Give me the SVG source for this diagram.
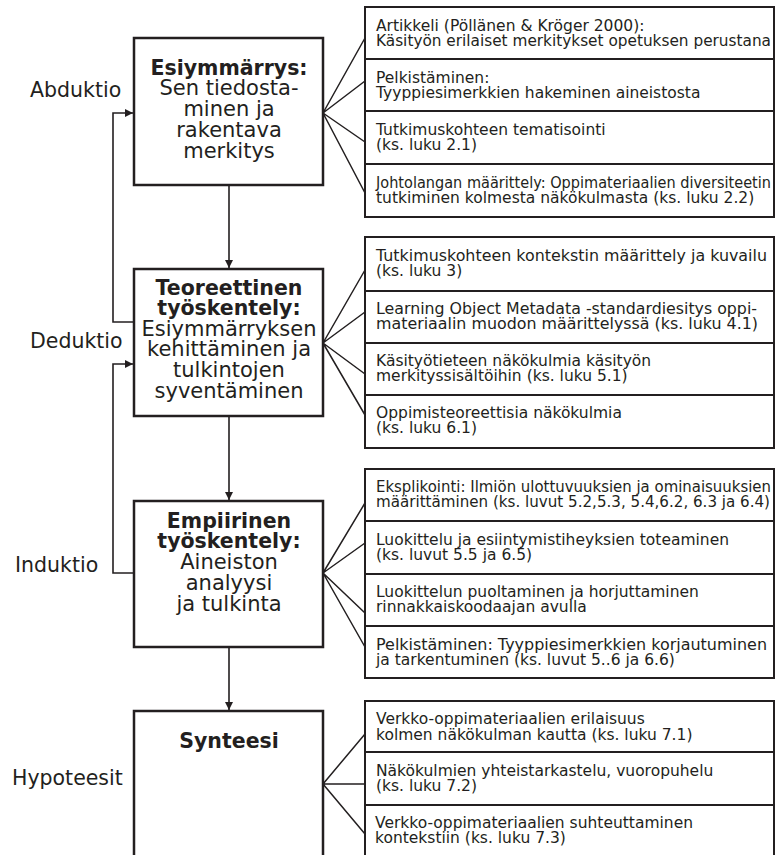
<svg xmlns="http://www.w3.org/2000/svg" width="776" height="855" viewBox="0 0 776 855">
  <style>
    .box { fill: #fff; stroke: #231f20; stroke-width: 2.5; }
    .panel { fill: #fff; stroke: #231f20; stroke-width: 2; }
    .sep { stroke: #231f20; stroke-width: 2; }
    .fan { fill: none; stroke: #231f20; stroke-width: 1.5; }
    .flow { fill: none; stroke: #231f20; stroke-width: 1.6; }
    .title { font-family: "DejaVu Sans", Verdana, sans-serif; font-size: 21px; fill: #231f20; text-anchor: middle; }
    .title .b { font-weight: bold; font-size: 20.5px; }
    .side { font-family: "DejaVu Sans", Verdana, sans-serif; font-size: 20.5px; fill: #231f20; }
    .item { font-family: "DejaVu Sans", Verdana, sans-serif; font-size: 15.5px; fill: #231f20; }
  </style>
  <defs>
    <marker id="arrow" viewBox="0 0 10 10" refX="10" refY="5" markerWidth="8" markerHeight="8" markerUnits="userSpaceOnUse" orient="auto">
      <path d="M0,0 L10,5 L0,10 Z" fill="#231f20"/>
    </marker>
  </defs>

  <rect width="776" height="855" fill="#fff"/>

  <!-- connectors: main flow, feedback loops and fans to detail panels -->
  <g id="connectors">
    <path class="flow" d="M229,185 V268" marker-end="url(#arrow)"/>
    <path class="flow" d="M229,416 V500" marker-end="url(#arrow)"/>
    <path class="flow" d="M229,647 V710" marker-end="url(#arrow)"/>
    <path class="flow" d="M134,322 H113 V113 H133" marker-end="url(#arrow)"/>
    <path class="flow" d="M134,573 H113 V364 H133" marker-end="url(#arrow)"/>

    <path class="fan" d="M323,113 L365,38 M323,113 L365,81 M323,113 L365,142 M323,113 L365,193"/>
    <path class="fan" d="M323,343 L365,270 M323,343 L365,312 M323,343 L365,374 M323,343 L365,415"/>
    <path class="fan" d="M323,573 L365,503 M323,573 L365,543 M323,573 L365,613 M323,573 L365,647"/>
    <path class="fan" d="M323,784 L365,734 M323,784 L365,784 M323,784 L365,834"/>
  </g>

  <!-- side labels -->
  <g id="label-abduktio"><text class="side" x="30" y="97">Abduktio</text></g>
  <g id="label-deduktio"><text class="side" x="30" y="348">Deduktio</text></g>
  <g id="label-induktio"><text class="side" x="15" y="572">Induktio</text></g>
  <g id="label-hypoteesit"><text class="side" x="12" y="785">Hypoteesit</text></g>

  <!-- main stages -->
  <g id="esiymmarrys">
    <rect class="box" x="134" y="38" width="189" height="147"/>
    <text class="title"><tspan class="b" x="229" y="75">Esiymmärrys:</tspan><tspan x="229" y="95">Sen tiedosta-</tspan><tspan x="229" y="116">minen ja</tspan><tspan x="229" y="137">rakentava</tspan><tspan x="229" y="158">merkitys</tspan></text>
  </g>

  <g id="teoreettinen">
    <rect class="box" x="134" y="269" width="189" height="147"/>
    <text class="title"><tspan class="b" x="229" y="295">Teoreettinen</tspan><tspan class="b" x="229" y="315">työskentely:</tspan><tspan x="229" y="336">Esiymmärryksen</tspan><tspan x="229" y="356">kehittäminen ja</tspan><tspan x="229" y="377">tulkintojen</tspan><tspan x="229" y="398">syventäminen</tspan></text>
  </g>

  <g id="empiirinen">
    <rect class="box" x="134" y="501" width="189" height="146"/>
    <text class="title"><tspan class="b" x="229" y="528">Empiirinen</tspan><tspan class="b" x="229" y="548">työskentely:</tspan><tspan x="229" y="569">Aineiston</tspan><tspan x="229" y="590">analyysi</tspan><tspan x="229" y="611">ja tulkinta</tspan></text>
  </g>

  <g id="synteesi">
    <rect class="box" x="134" y="711" width="189" height="160"/>
    <text class="title"><tspan class="b" x="229" y="748">Synteesi</tspan></text>
  </g>

  <!-- detail panels -->
  <g id="panel-esiymmarrys">
    <rect class="panel" x="365" y="7" width="409" height="210"/>
    <path class="sep" d="M365,59 H774 M365,111 H774 M365,164 H774"/>
    <text class="item" x="376" y="31">Artikkeli (Pöllänen &amp; Kröger 2000):</text>
    <text class="item" x="376" y="46" textLength="395" lengthAdjust="spacingAndGlyphs">Käsityön erilaiset merkitykset opetuksen perustana</text>
    <text class="item" x="376" y="83">Pelkistäminen:</text>
    <text class="item" x="376" y="98">Tyyppiesimerkkien hakeminen aineistosta</text>
    <text class="item" x="376" y="135">Tutkimuskohteen tematisointi</text>
    <text class="item" x="376" y="150">(ks. luku 2.1)</text>
    <text class="item" x="376" y="188" textLength="395" lengthAdjust="spacingAndGlyphs">Johtolangan määrittely: Oppimateriaalien diversiteetin</text>
    <text class="item" x="376" y="203">tutkiminen kolmesta näkökulmasta (ks. luku 2.2)</text>
  </g>

  <g id="panel-teoreettinen">
    <rect class="panel" x="365" y="237" width="409" height="211"/>
    <path class="sep" d="M365,291 H774 M365,343 H774 M365,395 H774"/>
    <text class="item" x="376" y="261" textLength="391" lengthAdjust="spacingAndGlyphs">Tutkimuskohteen kontekstin määrittely ja kuvailu</text>
    <text class="item" x="376" y="276">(ks. luku 3)</text>
    <text class="item" x="376" y="314" textLength="381" lengthAdjust="spacingAndGlyphs">Learning Object Metadata -standardiesitys oppi-</text>
    <text class="item" x="376" y="329" textLength="382" lengthAdjust="spacingAndGlyphs">materiaalin muodon määrittelyssä (ks. luku 4.1)</text>
    <text class="item" x="376" y="366">Käsityötieteen näkökulmia käsityön</text>
    <text class="item" x="376" y="381">merkityssisältöihin (ks. luku 5.1)</text>
    <text class="item" x="376" y="418">Oppimisteoreettisia näkökulmia</text>
    <text class="item" x="376" y="433">(ks. luku 6.1)</text>
  </g>

  <g id="panel-empiirinen">
    <rect class="panel" x="365" y="469" width="409" height="209"/>
    <path class="sep" d="M365,521 H774 M365,574 H774 M365,626 H774"/>
    <text class="item" x="376" y="492" textLength="395" lengthAdjust="spacingAndGlyphs">Eksplikointi: Ilmiön ulottuvuuksien ja ominaisuuksien</text>
    <text class="item" x="376" y="507" textLength="394" lengthAdjust="spacingAndGlyphs">määrittäminen (ks. luvut 5.2,5.3, 5.4,6.2, 6.3 ja 6.4)</text>
    <text class="item" x="376" y="545">Luokittelu ja esiintymistiheyksien toteaminen</text>
    <text class="item" x="376" y="560">(ks. luvut 5.5 ja 6.5)</text>
    <text class="item" x="376" y="597">Luokittelun puoltaminen ja horjuttaminen</text>
    <text class="item" x="376" y="612">rinnakkaiskoodaajan avulla</text>
    <text class="item" x="376" y="650" textLength="391" lengthAdjust="spacingAndGlyphs">Pelkistäminen: Tyyppiesimerkkien korjautuminen</text>
    <text class="item" x="376" y="665">ja tarkentuminen (ks. luvut 5..6 ja 6.6)</text>
  </g>

  <g id="panel-synteesi">
    <rect class="panel" x="365" y="701" width="409" height="170"/>
    <path class="sep" d="M365,752 H774 M365,805 H774"/>
    <text class="item" x="376" y="724">Verkko-oppimateriaalien erilaisuus</text>
    <text class="item" x="376" y="740">kolmen näkökulman kautta (ks. luku 7.1)</text>
    <text class="item" x="376" y="776">Näkökulmien yhteistarkastelu, vuoropuhelu</text>
    <text class="item" x="376" y="791">(ks. luku 7.2)</text>
    <text class="item" x="375" y="828">Verkko-oppimateriaalien suhteuttaminen</text>
    <text class="item" x="375" y="843">kontekstiin (ks. luku 7.3)</text>
  </g>
</svg>
